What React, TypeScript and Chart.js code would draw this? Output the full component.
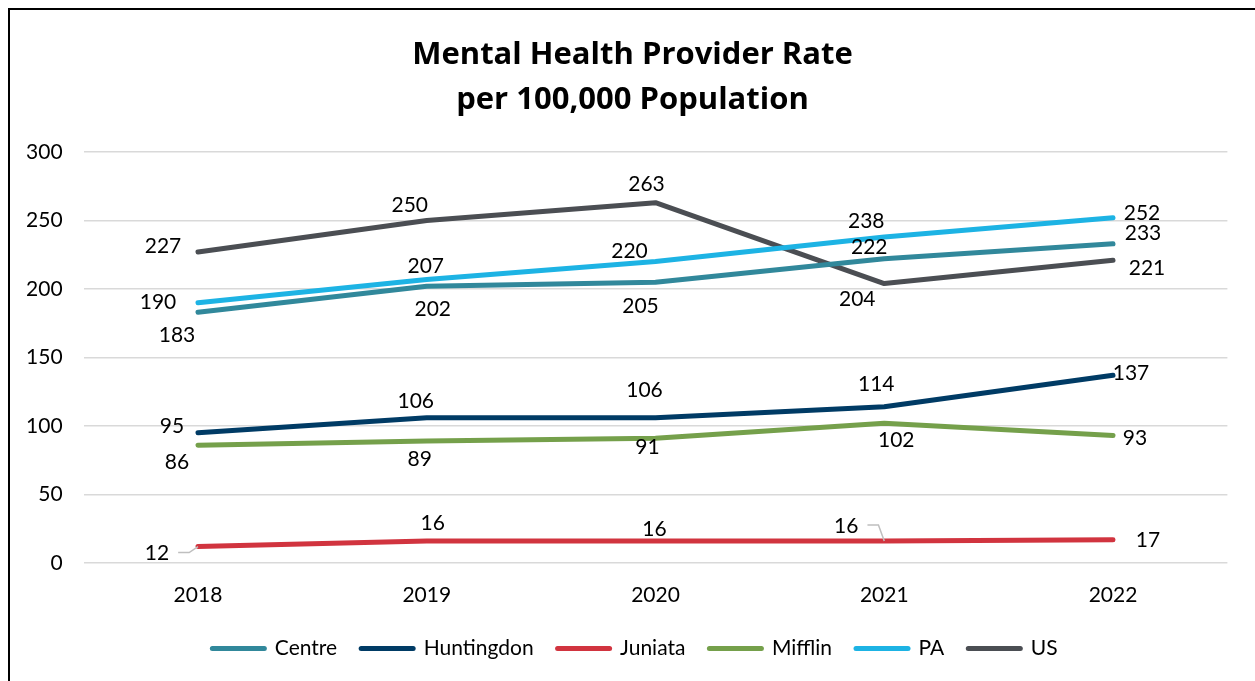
import React, { useEffect, useRef } from "react";
import { Chart, registerables } from "chart.js";

Chart.register(...registerables);

const FONT = "Lato, 'Noto Sans', sans-serif";
const TITLE_FONT = "'Open Sans', Lato, sans-serif";

const years = ["2018", "2019", "2020", "2021", "2022"];
const centre = [183, 202, 205, 222, 233];
const huntingdon = [95, 106, 106, 114, 137];
const juniata = [12, 16, 16, 16, 17];
const mifflin = [86, 89, 91, 102, 93];
const pa = [190, 207, 220, 238, 252];
const us = [227, 250, 263, 204, 221];
const yMin = 0;
const yMax = 300;
const yStep = 50;

const seriesNames = ["Centre", "Huntingdon", "Juniata", "Mifflin", "PA", "US"];
const seriesColors = ["#31889B", "#003B65", "#D1343F", "#75A04B", "#1DB3E4", "#4B4E53"];

// label placement (pixel offsets from the point), styling only
const labelOffsets: Record<string, number[][]> = {
  Centre: [[-21, 23], [6, 23], [-15, 24], [-15, -12], [30, -11]],
  Huntingdon: [[-26, -7], [-11, -17], [-11, -28], [-8, -23], [18, -2]],
  Juniata: [[-41, 7], [6, -18], [-1, -12], [-38, -15], [35, 1]],
  Mifflin: [[-21, 17], [-7, 18], [-8, 9], [12, 17], [22, 3]],
  PA: [[-40, 0], [-1, -13], [-26, -10], [-18, -16], [29, -5]],
  US: [[-35, -6], [-17, -15], [-9, -18], [-27, 16], [34, 8]],
};
const leaderLines: Record<string, boolean[]> = {
  Juniata: [true, false, false, true, false],
};

const labelPlugin = {
  id: "pointValueLabels",
  afterLayout(chart: any) {
    if (chart.titleBlock) {
      chart.titleBlock.left = 0;
      chart.titleBlock.right = chart.width;
    }
    if (chart.legend) {
      chart.legend.left = 5;
      chart.legend.right = chart.width;
    }
  },
  afterDatasetsDraw(chart: any) {
    const ctx = chart.ctx;
    ctx.save();
    ctx.font = `21px ${FONT}`;
    ctx.fillStyle = "#000";
    ctx.textAlign = "center";
    ctx.textBaseline = "middle";
    chart.data.datasets.forEach((ds: any, di: number) => {
      const meta = chart.getDatasetMeta(di);
      const offs = labelOffsets[ds.label] || [];
      meta.data.forEach((pt: any, i: number) => {
        const [dx, dy] = offs[i] || [0, -15];
        const x = pt.x + dx;
        const y = pt.y + dy;
        const text = String(ds.data[i]);
        if (leaderLines[ds.label] && leaderLines[ds.label][i]) {
          const w = ctx.measureText(text).width;
          const sx = x + w / 2 + 9;
          ctx.strokeStyle = "#BFBFBF";
          ctx.lineWidth = 1.5;
          ctx.beginPath();
          ctx.moveTo(sx, y - 1);
          ctx.lineTo(sx + 11, y - 1);
          ctx.lineTo(pt.x, pt.y);
          ctx.stroke();
        }
        ctx.fillText(text, x, y);
      });
    });
    ctx.restore();
  },
};

export default function App() {
  const ref = useRef<HTMLCanvasElement>(null);
  useEffect(() => {
    document.documentElement.style.overflow = "hidden";
    document.body.style.overflow = "hidden";
    const seriesData = [centre, huntingdon, juniata, mifflin, pa, us];
    const chart = new Chart(ref.current!, {
      type: "line",
      data: {
        labels: years,
        datasets: seriesNames.map((name, i) => ({
          label: name,
          data: seriesData[i],
          borderColor: seriesColors[i],
          backgroundColor: seriesColors[i],
          borderWidth: 5,
          borderCapStyle: "round",
          borderJoinStyle: "round",
          pointRadius: 0,
          pointHoverRadius: 0,
          tension: 0,
          fill: false,
        })),
      },
      options: {
        responsive: false,
        animation: false,
        layout: { padding: { left: 0, right: 27.6, top: 0, bottom: 41 } },
        plugins: {
          tooltip: { enabled: false },
          title: {
            display: true,
            text: ["Mental Health Provider Rate", "per 100,000 Population"],
            color: "#000",
            font: { family: TITLE_FONT, size: 31, weight: "bold", lineHeight: 45 / 31 },
            padding: { top: 23, bottom: 29 },
          },
          legend: {
            position: "bottom",
            labels: {
              color: "#000",
              font: { family: FONT, size: 21 },
              usePointStyle: true,
              pointStyle: "line",
              pointStyleWidth: 52,
              padding: 24,
              generateLabels: (ch: any) =>
                ch.data.datasets.map((ds: any, i: number) => ({
                  text: ds.label,
                  fillStyle: ds.borderColor,
                  strokeStyle: ds.borderColor,
                  lineWidth: 5,
                  lineCap: "round",
                  pointStyle: "line",
                  hidden: false,
                  datasetIndex: i,
                  fontColor: "#000",
                })),
            },
          },
        },
        scales: {
          x: {
            offset: true,
            grid: { display: false, drawTicks: false },
            border: { display: false },
            ticks: { color: "#000", font: { family: FONT, size: 21 }, padding: 20 },
            afterFit: (s: any) => {
              s.height = 51;
            },
          },
          y: {
            min: yMin,
            max: yMax,
            grid: { color: "#D9D9D9", lineWidth: 1.5, drawTicks: false },
            border: { display: false },
            ticks: { stepSize: yStep, color: "#000", font: { family: FONT, size: 21 }, padding: 21 },
            afterFit: (s: any) => {
              s.width = 73.6;
            },
          },
        },
      },
      plugins: [labelPlugin],
    });
    return () => chart.destroy();
  }, []);
  return (
    <div
      style={{
        position: "absolute",
        left: 8,
        top: 8,
        width: 1250,
        height: 705,
        border: "2px solid #000",
        background: "#fff",
      }}
    >
      <canvas ref={ref} width={1245} height={700} style={{ display: "block" }} />
    </div>
  );
}
